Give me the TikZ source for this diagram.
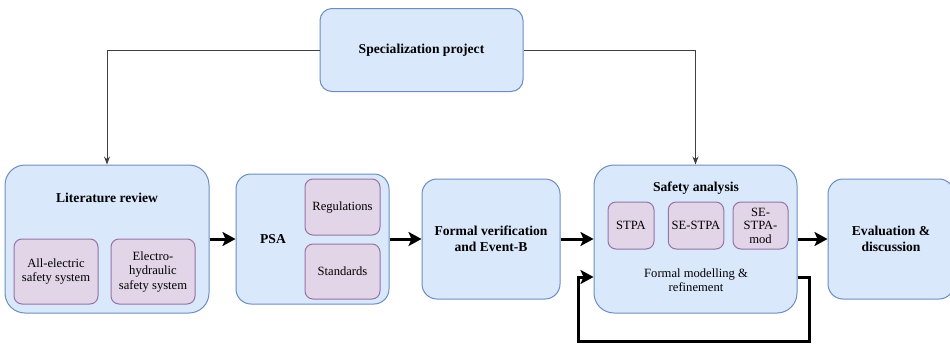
\documentclass[tikz,border=0pt]{standalone}
\usepackage{fontspec}
\setmainfont{Liberation Serif}
\usetikzlibrary{arrows.meta}
\definecolor{boxfill}{HTML}{DAE8FC}
\definecolor{boxline}{HTML}{6C8EBF}
\definecolor{subfill}{HTML}{E1D5E7}
\definecolor{subline}{HTML}{9673A6}
\tikzset{
  bigbox/.style={draw=boxline,fill=boxfill,line width=1pt,rounded corners=15pt,
    align=center,inner sep=2pt,font=\fontsize{13.6}{16}\selectfont\bfseries},
  subbox/.style={draw=subline,fill=subfill,line width=1pt,rounded corners=8pt,
    align=center,inner sep=1pt,font=\fontsize{12.6}{14.5}\selectfont},
  title/.style={font=\fontsize{13.6}{16}\selectfont\bfseries,align=center},
  plain/.style={font=\fontsize{12.6}{14.5}\selectfont,align=center},
  thin/.style={draw=black!75,line width=1pt,-{Stealth[length=8pt,width=6pt]}},
  thick/.style={line width=3pt,-{Stealth[length=13pt,width=14pt,inset=3pt]}}
}
\begin{document}
\begin{tikzpicture}[x=1pt,y=-1pt]
	\useasboundingbox (0,0) rectangle (950,343);
		% top box
		\node[bigbox,minimum width=203pt,minimum height=83pt,rounded corners=12pt] at (421.5,50)(spec){Specialization project};
		% literature review
		\node[bigbox,minimum width=204pt,minimum height=148pt,rounded corners=20pt] at (107,239)(lit){};
		\node[title] at (107,198)(littitle){Literature review};
		\node[subbox,minimum width=84pt,minimum height=65pt] at (56,271.5)(allel){All-electric\\safety system};
		\node[subbox,minimum width=84pt,minimum height=65pt] at (153,271.5)(elhyd){Electro-\\hydraulic\\safety system};
		% PSA
		\node[bigbox,minimum width=153pt,minimum height=130pt] at (312.5,239)(psa){};
		\node[title] at (273,239)(psatitle){PSA};
		\node[subbox,minimum width=75pt,minimum height=56pt] at (342.5,207)(reg){Regulations};
		\node[subbox,minimum width=75pt,minimum height=55pt] at (342.5,271.5)(std){Standards};
		% formal verification
		\node[bigbox,minimum width=138pt,minimum height=120pt] at (491,239)(formal){Formal verification\\and Event-B};
		% safety analysis
		\node[bigbox,minimum width=203pt,minimum height=148pt,rounded corners=20pt] at (695.5,239)(safety){};
		\node[title] at (696,188)(safetytitle){Safety analysis};
		\node[subbox,minimum width=46pt,minimum height=47pt] at (631,225.5)(stpa){STPA};
		\node[subbox,minimum width=55.5pt,minimum height=47pt] at (696,225.5)(sestpa){SE-STPA};
		\node[subbox,minimum width=55pt,minimum height=47pt,font=\fontsize{12.6}{13.5}\selectfont] at (760.5,225.5)(mod){SE-\\STPA-\\mod};
		\node[plain] at (696,280)(refine){Formal modelling \&\\refinement};
		% evaluation
		\node[bigbox,minimum width=126pt,minimum height=120pt] at (891,239)(eval){Evaluation \&\\discussion};

		\coordinate (loopA) at (809,277);
		\coordinate (loopB) at (578,341);

		\draw[thin] (spec.west) -| (lit.north);
		\draw[thin] (spec.east) -| (safety.north);
		\path[thick]
		(lit) edge (psa)
		(psa) edge (formal)
		(formal) edge (safety)
		(safety) edge (eval);
		\draw[thick] (safety.east |- loopA) -- (loopA) |- (loopB) |- (safety.west |- loopA);
	\end{tikzpicture}
\end{document}
